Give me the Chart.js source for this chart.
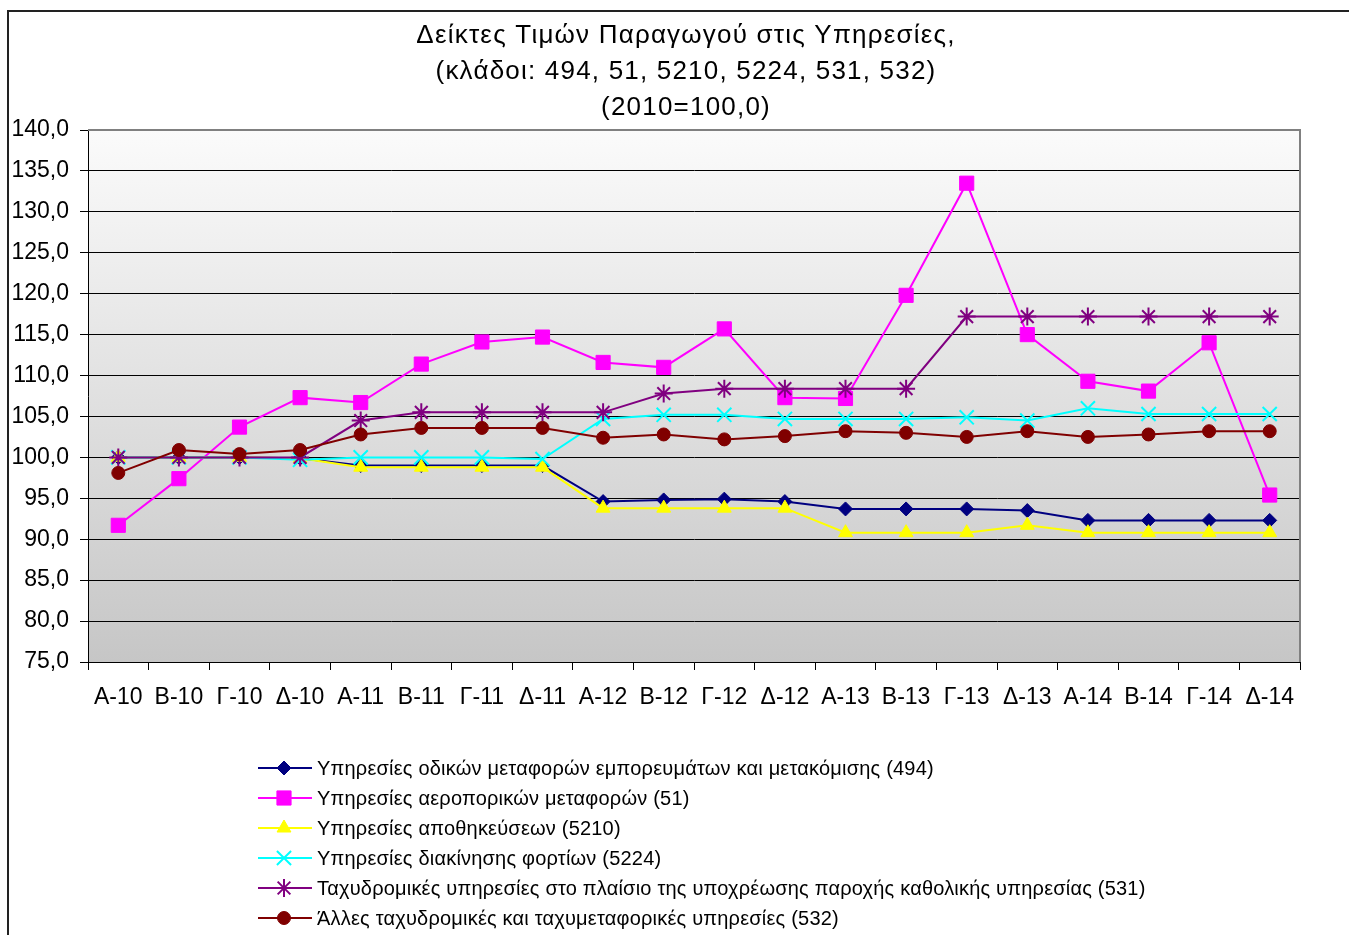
<!DOCTYPE html>
<html>
<head>
<meta charset="utf-8">
<script src="https://cdn.jsdelivr.net/npm/chart.js@4"></script>
<style>
  body { margin: 0; background: #fff; }
  #wrap { width: 1349px; height: 935px; }
</style>
</head>
<body>
<div id="wrap"><canvas id="graf" width="1349" height="935"></canvas></div>
<script>
// podaci
const kvartali = ['Α-10','Β-10','Γ-10','Δ-10','Α-11','Β-11','Γ-11','Δ-11','Α-12','Β-12','Γ-12','Δ-12','Α-13','Β-13','Γ-13','Δ-13','Α-14','Β-14','Γ-14','Δ-14'];

const cestovni   = [100.0,100.0,100.0,99.9, 99.0,99.0,99.0,99.0, 94.6,94.8,94.9,94.6, 93.7,93.7,93.7,93.5, 92.3,92.3,92.3,92.3];
const zracni     = [91.7,97.4,103.7,107.3, 106.7,111.4,114.1,114.7, 111.6,111.0,115.7,107.3, 107.2,119.8,133.5,115.0, 109.3,108.1,114.0,95.4];
const skladista  = [100.0,100.0,100.0,99.9, 98.8,98.8,98.8,98.8, 93.8,93.8,93.8,93.8, 90.8,90.8,90.8,91.7, 90.8,90.8,90.8,90.8];
const pretovar   = [100.0,100.0,100.0,99.7, 100.0,100.0,100.0,99.8, 104.7,105.2,105.2,104.7, 104.7,104.7,104.9,104.5, 106.0,105.3,105.3,105.3];
const posta531   = [100.0,100.0,100.0,100.0, 104.5,105.5,105.5,105.5, 105.5,107.8,108.4,108.4, 108.4,108.4,117.2,117.2, 117.2,117.2,117.2,117.2];
const posta532   = [98.1,100.9,100.4,100.9, 102.8,103.6,103.6,103.6, 102.4,102.8,102.2,102.6, 103.2,103.0,102.5,103.2, 102.5,102.8,103.2,103.2];

const nazivi = [
  'Υπηρεσίες οδικών μεταφορών εμπορευμάτων και μετακόμισης (494)',
  'Υπηρεσίες αεροπορικών μεταφορών (51)',
  'Υπηρεσίες αποθηκεύσεων (5210)',
  'Υπηρεσίες διακίνησης φορτίων (5224)',
  'Ταχυδρομικές υπηρεσίες στο πλαίσιο της υποχρέωσης παροχής καθολικής υπηρεσίας (531)',
  'Άλλες ταχυδρομικές και ταχυμεταφορικές υπηρεσίες (532)'
];
const naslov = ['Δείκτες Τιμών Παραγωγού στις Υπηρεσίες,', '(κλάδοι: 494, 51, 5210, 5224, 531, 532)', '(2010=100,0)'];

const FONT = '"Liberation Sans", Arial, sans-serif';

const serije = [
  { data: cestovni,  boja: '#000080', stil: 'rectRot',  r: 7 },
  { data: zracni,    boja: '#FF00FF', stil: 'rect',     r: 10 },
  { data: skladista, boja: '#FFFF00', stil: 'triangle', r: 8 },
  { data: pretovar,  boja: '#00FFFF', stil: 'crossRot', r: 10 },
  { data: posta531,  boja: '#800080', stil: 'star',     r: 9 },
  { data: posta532,  boja: '#800000', stil: 'circle',   r: 6.5 }
];

const datasets = serije.map((s, i) => ({
  label: nazivi[i],
  data: s.data,
  borderColor: s.boja,
  backgroundColor: s.boja,
  pointBackgroundColor: s.boja,
  pointBorderColor: s.boja,
  pointStyle: s.stil,
  pointRadius: s.r,
  pointBorderWidth: (s.stil === 'crossRot' || s.stil === 'star') ? 2 : 1,
  borderWidth: 2,
  tension: 0,
  order: 10 - i
}));

// pozadina, okvir, naslov i legenda
const ukrasi = {
  id: 'ukrasi',
  beforeDraw(chart) {
    const c = chart.ctx, a = chart.chartArea;
    c.save();
    c.fillStyle = '#fff';
    c.fillRect(0, 0, chart.width, chart.height);
    const g = c.createLinearGradient(0, a.top, 0, a.bottom);
    g.addColorStop(0, '#fbfbfb');
    g.addColorStop(1, '#c6c6c6');
    c.fillStyle = g;
    c.fillRect(a.left, a.top, a.right - a.left, a.bottom - a.top);
    c.strokeStyle = '#222';
    c.lineWidth = 2;
    c.strokeRect(8, 11, 1400, 1000);
    c.restore();
  },
  afterDatasetsDraw(chart) {
    const c = chart.ctx, a = chart.chartArea;
    c.save();
    c.strokeStyle = '#808080';
    c.lineWidth = 2;
    c.beginPath();
    c.moveTo(a.left, a.top);
    c.lineTo(a.right, a.top);
    c.lineTo(a.right, a.bottom);
    c.stroke();

    c.fillStyle = '#000';
    c.textAlign = 'center';
    c.textBaseline = 'middle';
    c.font = '26px ' + FONT;
    c.letterSpacing = '1.2px';
    naslov.forEach((t, i) => c.fillText(t, 686, 36 + i * 36));

    c.textAlign = 'left';
    c.font = '20px ' + FONT;
    c.letterSpacing = '0.2px';
    chart.data.datasets.forEach((ds, i) => {
      const y = 768 + i * 30;
      c.strokeStyle = ds.borderColor;
      c.lineWidth = 2;
      c.beginPath();
      c.moveTo(258, y);
      c.lineTo(312, y);
      c.stroke();
      c.fillStyle = ds.pointBackgroundColor;
      c.strokeStyle = ds.pointBorderColor;
      c.lineWidth = ds.pointBorderWidth;
      Chart.helpers.drawPoint(c, { pointStyle: ds.pointStyle, radius: ds.pointRadius, rotation: 0, borderWidth: ds.pointBorderWidth }, 284, y);
      c.fillStyle = '#000';
      c.fillText(ds.label, 317, y + 1);
    });
    c.letterSpacing = '0px';
    c.restore();
  }
};

new Chart(document.getElementById('graf'), {
  type: 'line',
  data: { labels: kvartali, datasets: datasets },
  options: {
    responsive: false,
    animation: false,
    layout: { padding: { left: 8, right: 49, top: 130, bottom: 223 } },
    plugins: {
      legend: { display: false },
      title: { display: false },
      tooltip: { enabled: false }
    },
    scales: {
      x: {
        offset: true,
        grid: {
          offset: true,
          drawOnChartArea: false,
          drawTicks: true,
          tickLength: 8,
          color: '#000'
        },
        border: { color: '#000', width: 1 },
        ticks: {
          color: '#000',
          font: { family: FONT, size: 23 },
          padding: 14,
          maxRotation: 0,
          autoSkip: false
        },
        afterFit(s) { s.height = 50; }
      },
      y: {
        min: 75,
        max: 140,
        grid: {
          color: '#000',
          lineWidth: 1,
          tickLength: 8
        },
        border: { color: '#000', width: 1 },
        ticks: {
          stepSize: 5,
          color: '#000',
          padding: 11,
          font: { family: FONT, size: 23 },
          callback: v => v.toFixed(1).replace('.', ',')
        },
        afterFit(s) { s.width = 80; }
      }
    }
  },
  plugins: [ukrasi]
});
</script>
</body>
</html>
